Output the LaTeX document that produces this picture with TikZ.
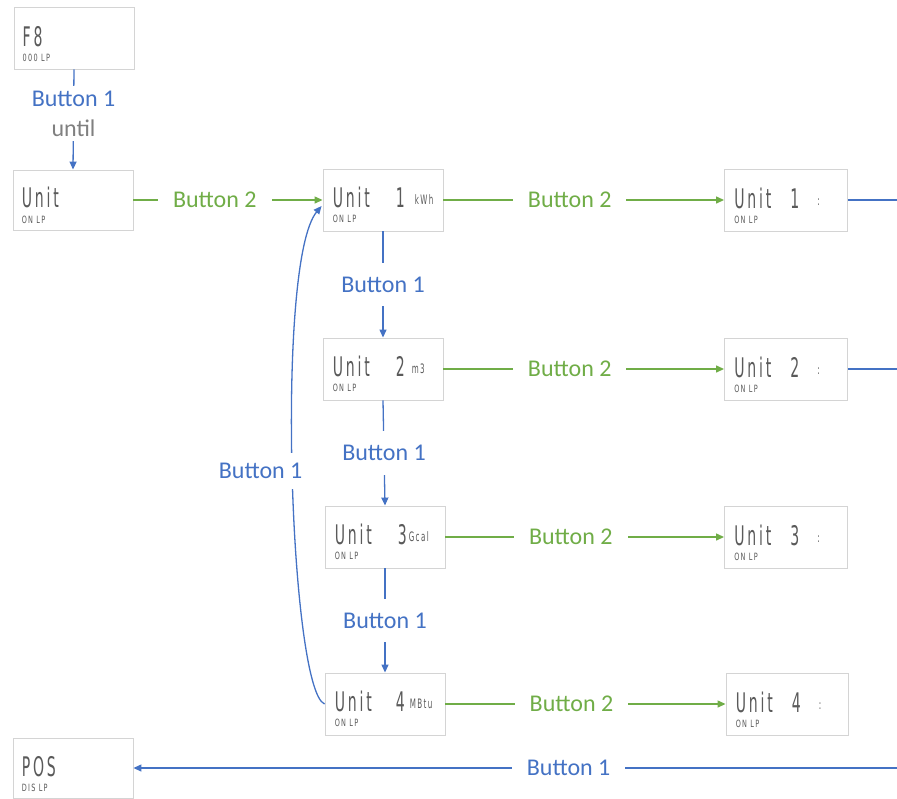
\documentclass[tikz,border=0pt]{standalone}
\usepackage{fontspec}
\setmainfont{Carlito}
\newfontfamily\lcdfont[LetterSpace=20]{DejaVu Sans}
\usetikzlibrary{arrows.meta,calc}
\definecolor{bblue}{HTML}{4472C4}
\definecolor{bgreen}{HTML}{70AD47}
\definecolor{ugray}{HTML}{808080}
\definecolor{lcdgray}{HTML}{5A5A5A}
\definecolor{boxgray}{HTML}{D4D4D4}
\newcommand\lcdbig[1]{\scalebox{0.52}[1]{\lcdfont\fontsize{27}{27}\selectfont #1}}
\newcommand\lcdsub[1]{\scalebox{0.65}[1]{\lcdfont\fontsize{10}{10}\selectfont #1}}
\newcommand\lcdunit[1]{\scalebox{0.55}[1]{\lcdfont\fontsize{13}{13}\selectfont #1}}
\begin{document}
\begin{tikzpicture}[x=1pt,y=-1pt,
  lcdbox/.style={draw=boxgray,fill=white,line width=0.9pt,minimum width=120pt,minimum height=62pt,inner sep=0pt},
  lcdtxt/.style={anchor=base west,inner sep=0pt,text=lcdgray},
  conn/.style={line width=1.3pt,-{Triangle[length=8pt,width=7pt]}},
  plain/.style={line width=1.3pt},
  lbl/.style={fill=white,inner xsep=15pt,inner ysep=5pt,font=\fontsize{24}{28}\selectfont},
  vlbl/.style={fill=white,inner xsep=4pt,inner ysep=14pt,font=\fontsize{24}{28}\selectfont}]
\useasboundingbox (0,0) rectangle (897,798);

% boxes
\node[lcdbox] (f8) at (74,38) {};
\node[lcdbox,minimum height=60pt] (unit) at (73,200) {};
\node[lcdbox] (u1) at (383,200) {};
\node[lcdbox,minimum width=123pt] (r1) at (786,200) {};
\node[lcdbox] (u2) at (383,369) {};
\node[lcdbox,minimum width=123pt] (r2) at (786,369) {};
\node[lcdbox] (u3) at (385,537) {};
\node[lcdbox,minimum width=123pt] (r3) at (786,537) {};
\node[lcdbox] (u4) at (385,704) {};
\node[lcdbox,minimum width=122pt] (r4) at (787,704) {};
\node[lcdbox,minimum height=60pt] (pos) at (73,768) {};

% box texts
\node[lcdtxt] (f8m) at ($(f8.north west)+(9,40)$) {\lcdbig{F8}};
\node[lcdtxt] (f8s) at ($(f8.north west)+(9,55)$) {\lcdsub{000 LP}};
\node[lcdtxt] (unitm) at ($(unit.north west)+(9,38)$) {\lcdbig{Unit}};
\node[lcdtxt] (units) at ($(unit.north west)+(9,54)$) {\lcdsub{ON LP}};

\node[lcdtxt] (u1m) at ($(u1.north west)+(10,39)$) {\lcdbig{Unit}};
\node[lcdtxt] (u1d) at ($(u1.north west)+(73,39)$) {\lcdbig{1}};
\node[lcdtxt] (u1u) at ($(u1.north west)+(92,36)$) {\lcdunit{kWh}};
\node[lcdtxt] (u1s) at ($(u1.north west)+(10,54)$) {\lcdsub{ON LP}};

\node[lcdtxt] (r1m) at ($(r1.north west)+(10,40)$) {\lcdbig{Unit}};
\node[lcdtxt] (r1d) at ($(r1.north west)+(66,40)$) {\lcdbig{1}};
\node[lcdtxt] (r1u) at ($(r1.north west)+(93,37)$) {\lcdunit{:}};
\node[lcdtxt] (r1s) at ($(r1.north west)+(10,55)$) {\lcdsub{ON LP}};

\node[lcdtxt] (u2m) at ($(u2.north west)+(10,39)$) {\lcdbig{Unit}};
\node[lcdtxt] (u2d) at ($(u2.north west)+(73,39)$) {\lcdbig{2}};
\node[lcdtxt] (u2u) at ($(u2.north west)+(89,36)$) {\lcdunit{m3}};
\node[lcdtxt] (u2s) at ($(u2.north west)+(10,54)$) {\lcdsub{ON LP}};

\node[lcdtxt] (r2m) at ($(r2.north west)+(10,40)$) {\lcdbig{Unit}};
\node[lcdtxt] (r2d) at ($(r2.north west)+(66,40)$) {\lcdbig{2}};
\node[lcdtxt] (r2u) at ($(r2.north west)+(93,37)$) {\lcdunit{:}};
\node[lcdtxt] (r2s) at ($(r2.north west)+(10,55)$) {\lcdsub{ON LP}};

\node[lcdtxt] (u3m) at ($(u3.north west)+(10,39)$) {\lcdbig{Unit}};
\node[lcdtxt] (u3d) at ($(u3.north west)+(73,39)$) {\lcdbig{3}};
\node[lcdtxt] (u3u) at ($(u3.north west)+(84,36)$) {\lcdunit{Gcal}};
\node[lcdtxt] (u3s) at ($(u3.north west)+(10,54)$) {\lcdsub{ON LP}};

\node[lcdtxt] (r3m) at ($(r3.north west)+(10,40)$) {\lcdbig{Unit}};
\node[lcdtxt] (r3d) at ($(r3.north west)+(66,40)$) {\lcdbig{3}};
\node[lcdtxt] (r3u) at ($(r3.north west)+(93,37)$) {\lcdunit{:}};
\node[lcdtxt] (r3s) at ($(r3.north west)+(10,55)$) {\lcdsub{ON LP}};

\node[lcdtxt] (u4m) at ($(u4.north west)+(10,39)$) {\lcdbig{Unit}};
\node[lcdtxt] (u4d) at ($(u4.north west)+(71,39)$) {\lcdbig{4}};
\node[lcdtxt] (u4u) at ($(u4.north west)+(85,36)$) {\lcdunit{MBtu}};
\node[lcdtxt] (u4s) at ($(u4.north west)+(10,54)$) {\lcdsub{ON LP}};

\node[lcdtxt] (r4m) at ($(r4.north west)+(10,40)$) {\lcdbig{Unit}};
\node[lcdtxt] (r4d) at ($(r4.north west)+(66,40)$) {\lcdbig{4}};
\node[lcdtxt] (r4u) at ($(r4.north west)+(93,37)$) {\lcdunit{:}};
\node[lcdtxt] (r4s) at ($(r4.north west)+(10,55)$) {\lcdsub{ON LP}};

\node[lcdtxt] (posm) at ($(pos.north west)+(9,39)$) {\lcdbig{POS}};
\node[lcdtxt] (poss) at ($(pos.north west)+(9,54)$) {\lcdsub{DIS LP}};

% free ends
\coordinate (e1) at (897,200);
\coordinate (e2) at (897,369);
\coordinate (e5) at (897,768);

% connectors
\draw[conn,bblue] (f8.south) -- node[fill=white,inner xsep=6pt,inner ysep=5pt,align=center,font=\fontsize{24}{30}\selectfont,pos=0.44]{\textcolor{bblue}{Button 1}\\\textcolor{ugray}{until}} (unit.north);

\draw[conn,bgreen] (unit.east) -- node[lbl,text=bgreen,pos=0.43]{Button 2} (u1.west);
\draw[conn,bgreen] (u1.east) -- node[lbl,text=bgreen,pos=0.45]{Button 2} (r1.west);
\draw[conn,bgreen] (u2.east) -- node[lbl,text=bgreen,pos=0.45]{Button 2} (r2.west);
\draw[conn,bgreen] (u3.east) -- node[lbl,text=bgreen,pos=0.45]{Button 2} (r3.west);
\draw[conn,bgreen] (u4.east) -- node[lbl,text=bgreen,pos=0.45]{Button 2} (r4.west);

\draw[plain,bblue] (r1.east) -- (e1);
\draw[plain,bblue] (r2.east) -- (e2);

\draw[conn,bblue] (u1.south) -- node[vlbl,text=bblue]{Button 1} (u2.north);
\draw[conn,bblue] (u2.south) -- node[vlbl,text=bblue]{Button 1} (u3.north);
\draw[conn,bblue] (u3.south) -- node[vlbl,text=bblue]{Button 1} (u4.north);

\draw[conn,bblue] (u4.west) .. controls (290,690) and (275,262) .. node[pos=0.5,fill=white,inner xsep=2pt,inner ysep=10pt,font=\fontsize{24}{28}\selectfont,text=bblue,xshift=-32pt]{Button 1} ($(u1.west)+(-1,6)$);

\draw[conn,bblue] (e5) -- node[lbl,text=bblue,pos=0.43]{Button 1} (pos.east);
\end{tikzpicture}
\end{document}
